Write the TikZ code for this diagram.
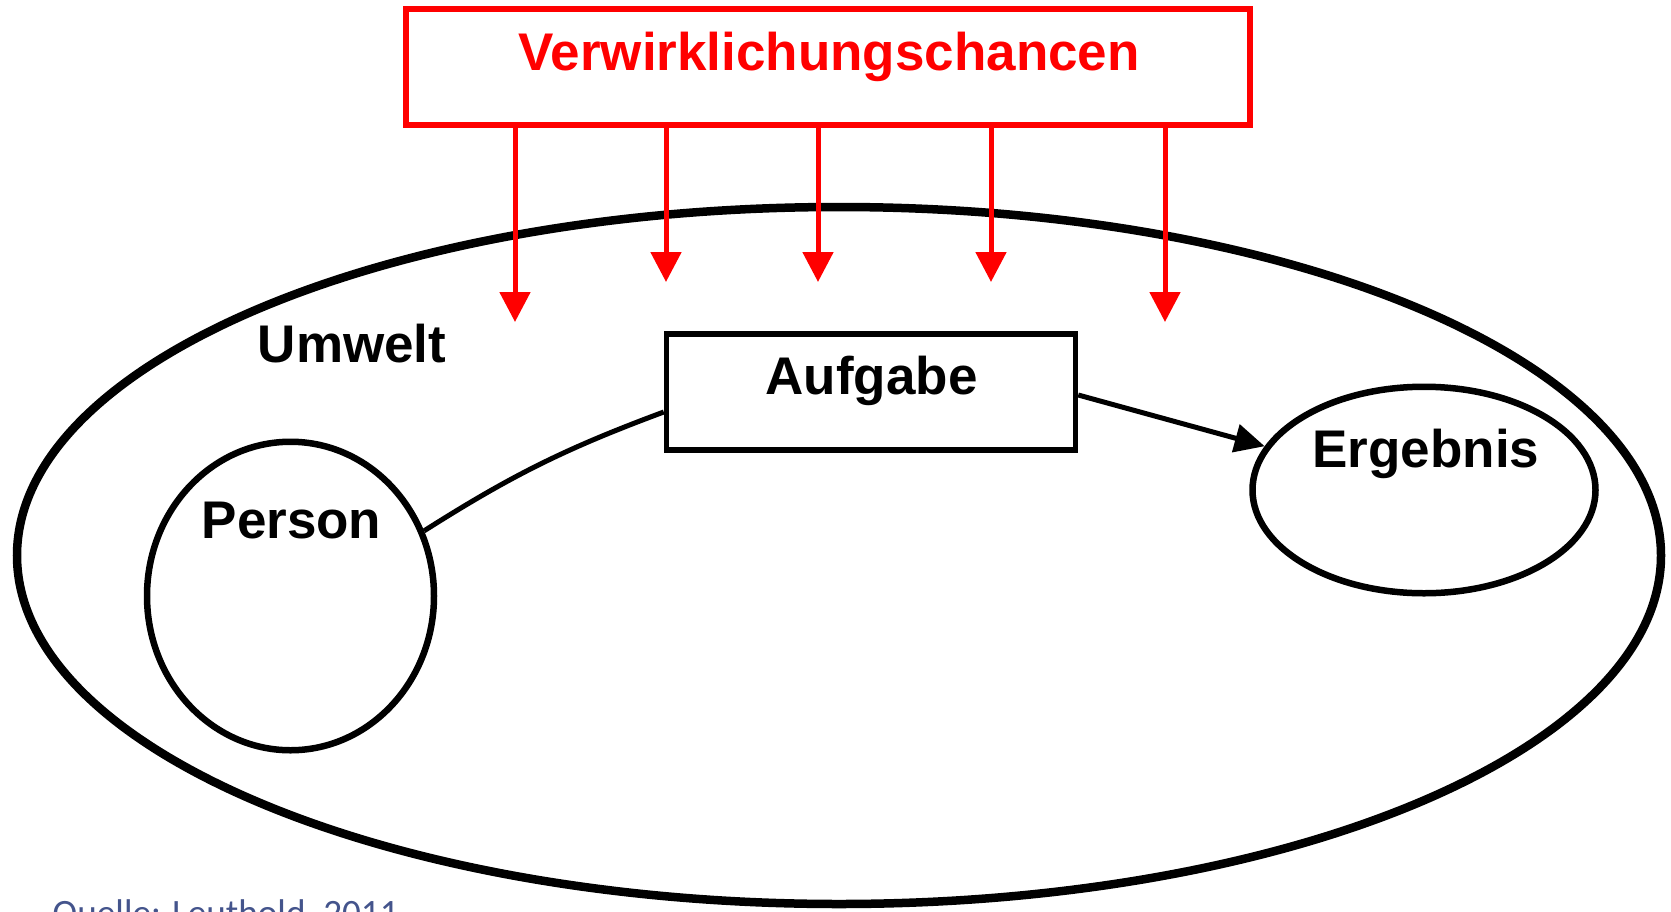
\documentclass[tikz,border=0pt]{standalone}
\usepackage{fontspec}
\setmainfont{Liberation Sans}
\newfontfamily\quellefont{Carlito}
\usetikzlibrary{shapes.geometric,arrows.meta}
\definecolor{quelleblue}{RGB}{68,84,140}

\begin{document}
\begin{tikzpicture}[x=0.5pt, y=-0.5pt,
		lbl/.style={anchor=base, inner sep=0pt, font=\fontsize{26.5}{30}\selectfont\bfseries},
		redarrow/.style={red, line width=2.5pt, -{Triangle[length=15pt,width=15pt]}}]
			\useasboundingbox (0,0) rectangle (1671,911);

			\draw node[ellipse, draw, line width=4.25pt, minimum width=822pt, minimum height=348.5pt] (umwelt) at (839,555.5) {};
			\draw node[ellipse, draw, line width=3.25pt, minimum width=143.5pt, minimum height=154.25pt] (person) at (290.5,596) {};
			\draw node[ellipse, draw, line width=3.25pt, minimum width=171.5pt, minimum height=103.25pt] (ergebnis) at (1424,490) {};
			\draw node[rectangle, draw, line width=2.75pt, minimum width=204.5pt, minimum height=57.85pt] (aufgabe) at (871,392) {};
			\draw node[rectangle, draw=red, line width=2.75pt, minimum width=422pt, minimum height=58pt] (chancen) at (828,67) {};

			\node[lbl, text=red] (chancentext) at (829,70) {Verwirklichungschancen};
			\node[lbl] (umwelttext) at (352,362) {Umwelt};
			\node[lbl] (aufgabetext) at (871.5,394.5) {Aufgabe};
			\node[lbl] (persontext) at (291.5,538) {Person};
			\node[lbl] (ergebnistext) at (1426,467) {Ergebnis};
			\node[anchor=base west, inner sep=0pt, text=quelleblue, font=\quellefont\fontsize{18.6}{22}\selectfont] (quelle) at (52,925) {Quelle: Leuthold, 2011};

			\coordinate (tip1) at (515,322);
			\coordinate (tip2) at (666,282);
			\coordinate (tip3) at (818,282);
			\coordinate (tip4) at (991,282);
			\coordinate (tip5) at (1165,322);

			\draw[redarrow] (tip1 |- chancen.south) -- (tip1);
			\draw[redarrow] (tip2 |- chancen.south) -- (tip2);
			\draw[redarrow] (tip3 |- chancen.south) -- (tip3);
			\draw[redarrow] (tip4 |- chancen.south) -- (tip4);
			\draw[redarrow] (tip5 |- chancen.south) -- (tip5);

			\draw[line width=2.5pt] (person.26) to[bend left=6] ([yshift=-10pt]aufgabe.west);
			\draw[line width=2.5pt, -{Triangle[length=15pt,width=14pt]}] ([yshift=-1.5pt]aufgabe.east) -- (ergebnis);
		\end{tikzpicture}
\end{document}
